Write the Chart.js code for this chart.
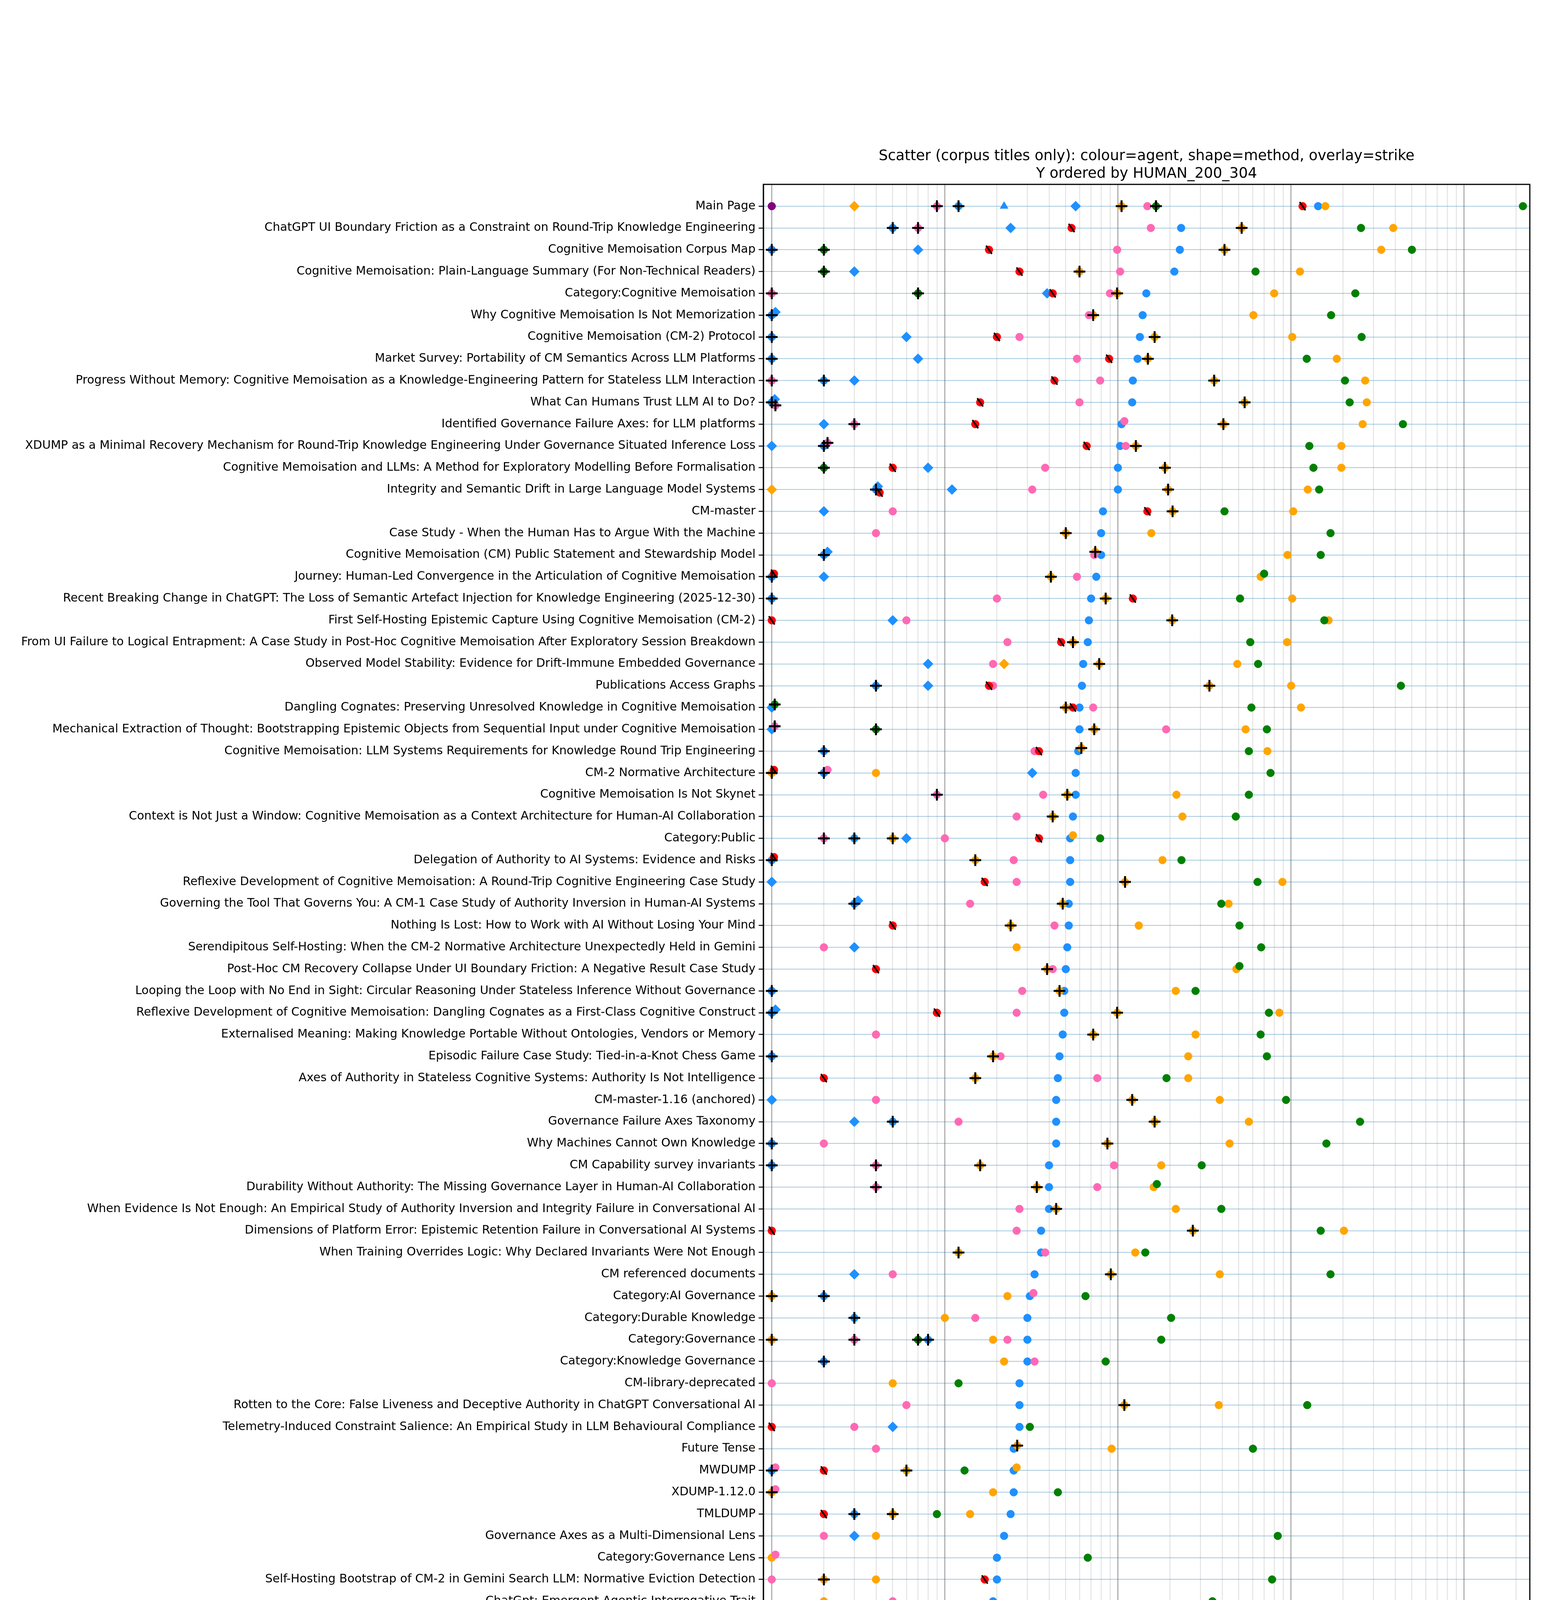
<!DOCTYPE html>
<html>
<head>
<meta charset="utf-8">
<title>Scatter (corpus titles only)</title>
<script src="https://cdn.jsdelivr.net/npm/chart.js@4.4.1/dist/chart.umd.min.js"></script>
<style>
  html, body { margin: 0; padding: 0; background: #fff; }
  #wrap { width: 3960px; height: 5913px; }
</style>
</head>
<body>
<div id="wrap"><canvas id="chart" width="3960" height="5913"></canvas></div>
<script>
// page titles, top to bottom (ordered by human 200/304 hits)
const titles = [
  'Main Page',
  'ChatGPT UI Boundary Friction as a Constraint on Round-Trip Knowledge Engineering',
  'Cognitive Memoisation Corpus Map',
  'Cognitive Memoisation: Plain-Language Summary (For Non-Technical Readers)',
  'Category:Cognitive Memoisation',
  'Why Cognitive Memoisation Is Not Memorization',
  'Cognitive Memoisation (CM-2) Protocol',
  'Market Survey: Portability of CM Semantics Across LLM Platforms',
  'Progress Without Memory: Cognitive Memoisation as a Knowledge-Engineering Pattern for Stateless LLM Interaction',
  'What Can Humans Trust LLM AI to Do?',
  'Identified Governance Failure Axes: for LLM platforms',
  'XDUMP as a Minimal Recovery Mechanism for Round-Trip Knowledge Engineering Under Governance Situated Inference Loss',
  'Cognitive Memoisation and LLMs: A Method for Exploratory Modelling Before Formalisation',
  'Integrity and Semantic Drift in Large Language Model Systems',
  'CM-master',
  'Case Study - When the Human Has to Argue With the Machine',
  'Cognitive Memoisation (CM) Public Statement and Stewardship Model',
  'Journey: Human-Led Convergence in the Articulation of Cognitive Memoisation',
  'Recent Breaking Change in ChatGPT: The Loss of Semantic Artefact Injection for Knowledge Engineering (2025-12-30)',
  'First Self-Hosting Epistemic Capture Using Cognitive Memoisation (CM-2)',
  'From UI Failure to Logical Entrapment: A Case Study in Post-Hoc Cognitive Memoisation After Exploratory Session Breakdown',
  'Observed Model Stability: Evidence for Drift-Immune Embedded Governance',
  'Publications Access Graphs',
  'Dangling Cognates: Preserving Unresolved Knowledge in Cognitive Memoisation',
  'Mechanical Extraction of Thought: Bootstrapping Epistemic Objects from Sequential Input under Cognitive Memoisation',
  'Cognitive Memoisation: LLM Systems Requirements for Knowledge Round Trip Engineering',
  'CM-2 Normative Architecture',
  'Cognitive Memoisation Is Not Skynet',
  'Context is Not Just a Window: Cognitive Memoisation as a Context Architecture for Human-AI Collaboration',
  'Category:Public',
  'Delegation of Authority to AI Systems: Evidence and Risks',
  'Reflexive Development of Cognitive Memoisation: A Round-Trip Cognitive Engineering Case Study',
  'Governing the Tool That Governs You: A CM-1 Case Study of Authority Inversion in Human-AI Systems',
  'Nothing Is Lost: How to Work with AI Without Losing Your Mind',
  'Serendipitous Self-Hosting: When the CM-2 Normative Architecture Unexpectedly Held in Gemini',
  'Post-Hoc CM Recovery Collapse Under UI Boundary Friction: A Negative Result Case Study',
  'Looping the Loop with No End in Sight: Circular Reasoning Under Stateless Inference Without Governance',
  'Reflexive Development of Cognitive Memoisation: Dangling Cognates as a First-Class Cognitive Construct',
  'Externalised Meaning: Making Knowledge Portable Without Ontologies, Vendors or Memory',
  'Episodic Failure Case Study: Tied-in-a-Knot Chess Game',
  'Axes of Authority in Stateless Cognitive Systems: Authority Is Not Intelligence',
  'CM-master-1.16 (anchored)',
  'Governance Failure Axes Taxonomy',
  'Why Machines Cannot Own Knowledge',
  'CM Capability survey invariants',
  'Durability Without Authority: The Missing Governance Layer in Human-AI Collaboration',
  'When Evidence Is Not Enough: An Empirical Study of Authority Inversion and Integrity Failure in Conversational AI',
  'Dimensions of Platform Error: Epistemic Retention Failure in Conversational AI Systems',
  'When Training Overrides Logic: Why Declared Invariants Were Not Enough',
  'CM referenced documents',
  'Category:AI Governance',
  'Category:Durable Knowledge',
  'Category:Governance',
  'Category:Knowledge Governance',
  'CM-library-deprecated',
  'Rotten to the Core: False Liveness and Deceptive Authority in ChatGPT Conversational AI',
  'Telemetry-Induced Constraint Salience: An Empirical Study in LLM Behavioural Compliance',
  'Future Tense',
  'MWDUMP',
  'XDUMP-1.12.0',
  'TMLDUMP',
  'Governance Axes as a Multi-Dimensional Lens',
  'Category:Governance Lens',
  'Self-Hosting Bootstrap of CM-2 in Gemini Search LLM: Normative Eviction Detection',
  'ChatGpt: Emergent Agentic Interrogative Trait',
  'Cognitive Memoisation: Governing Knowledge Round-Trip to Prevent Knowledge Erosion in LLM Systems',
  'ChatGPT and the Disappearing Clock: A Regression Affecting CM-2 Epistemic Object Protocol Compliance',
  'BF-9 Report: ChatGPT Project Context Artefact File Access Failure',
  'ChatGPT UI is unable to sustain serious work flows',
  'XDUMP-1.14',
  'CM-2 Reference Object Collection bootstrap data',
  'XDUMP-1.16',
  'Systemic Behavioural Traits in Conversational AI: A Trait-Level Classification Using Governance Axes',
  'MWDUMP-master-1.11',
  'Social Reliance and Platform-Induced Authority Inversion in Conversational AI',
  'TMLDUMP-1.0.0',
  'Transcript of a Session with Gemini Search - and I feel like Alice in Wonderland',
  'CM-2-normative-architecture-transclusion',
  'TMLDUMP-1.11',
  "Governance Substrate for AI Already Exists - and the World Hasn't Realised It Yet",
  'CM-2 Example Scenarios',
  'CM-2-protocol-transclusion',
  'Masquerading bots',
  'Venture Capital Brief',
  'CM Mandate',
  'CM-2-protocol-2026-03-06'
];

// human GET (200/304), one value per title row
const humanGet = [
  1435, 232, 228, 212, 146, 139, 134, 130, 122, 121,
  105, 103, 100, 100, 82, 80, 80, 75, 70, 68,
  67, 63, 62, 60, 60, 59, 57, 57, 55, 53,
  53, 53, 52, 52, 51, 50, 49, 49, 48, 46,
  45, 44, 44, 44, 40, 40, 40, 36, 36, 33,
  31, 30, 30, 30, 27, 27, 27, 25, 25, 25,
  24, 22, 20, 20, 19, 18, 17, 15, 15, 15,
  14, 14, 13, 12, 11, 10, 10, 7, 7, 6,
  2, 2, 2, 2, null, null
];

// the rest as [row, hits]
const humanGetOther = [[0,12],[1,5],[2,1],[5,1],[6,1],[7,1],[8,2],[9,1],[11,2],[13,4],[16,2],[17,1],[18,1],
  [22,4],[25,2],[26,2],[29,3],[30,1],[32,3],[36,1],[37,1],[39,1],[42,5],[43,1],[44,1],[50,2],[51,3],[52,8],
  [53,2],[58,1],[60,3],[66,1],[76,1]];
const humanHead = [[0,57],[1,24],[2,7],[3,3],[4,39],[5,1.05],[6,6],[7,7],[8,3],[9,1.04],[10,2],[11,1],[12,8],
  [13,4.1],[13,11],[14,2],[16,2.1],[17,2],[19,5],[21,8],[22,8],[23,1],[24,1],[26,32],[29,6],[31,1],[32,3.15],
  [34,3],[37,1.05],[41,1],[42,3],[49,3],[56,5],[61,3],[72,1]];
const humanPost = [[0,22]];

const metadataGet = [[0,1580],[1,3900],[2,3324],[3,1128],[4,800],[5,607],[6,1017],[7,1840],[8,2685],[9,2742],
  [10,2597],[11,1956],[12,1956],[13,1251],[14,1031],[15,156],[16,956],[17,668],[18,1017],[19,1650],[20,950],
  [21,490],[22,1003],[23,1143],[24,547],[25,731],[26,4],[27,218],[28,236],[29,55],[30,181],[31,893],[32,436],
  [33,132],[34,26],[35,484],[36,216],[37,857],[38,281],[39,255],[40,255],[41,388],[42,571],[43,442],[44,178],
  [45,161],[46,216],[47,2024],[48,126],[49,388],[50,23],[51,10],[52,19],[53,22],[54,5],[55,383],[57,92],
  [58,26],[59,19],[60,14],[61,4],[62,1],[63,4],[64,2],[65,1],[66,1.05],[67,2],[68,2],[69,11],[71,22],[72,51],
  [73,6],[74,5],[75,9],[76,3],[79,1],[82,1]];
const metadataGetOther = [[0,105],[1,519],[2,413],[3,60],[4,99],[5,72],[6,163],[7,149],[8,360],[9,540],
  [10,407],[11,127],[12,187],[13,195],[14,207],[15,50],[16,74],[17,41],[18,85],[19,206],[20,55],[21,78],
  [22,338],[23,50],[24,73],[25,61.5],[26,1],[27,51],[28,42],[29,5],[30,15],[31,110],[32,48],[33,24],[35,39],
  [36,46],[37,99],[38,72],[39,19],[40,15],[41,121],[42,163],[43,87],[44,16],[45,34],[46,44],[47,271],[48,12],
  [49,91],[50,1],[52,1],[55,109],[57,26.2],[58,6],[59,1],[60,5],[63,2],[71,1],[72,26],[74,1]];
const metadataHead = [[0,3],[13,1],[21,22]];

const aiGet = [[0,21900],[1,2540],[2,5000],[3,624],[4,2355],[5,1706],[6,2560],[7,1234],[8,2052],[9,2184],
  [10,4437],[11,1277],[12,1349],[13,1455],[14,413],[15,1693],[16,1486],[17,700],[18,508],[19,1559],[20,582],
  [21,646],[22,4319],[23,591],[24,726],[25,571],[26,762],[27,571],[28,480],[29,79],[30,233],[31,641],[32,396],
  [33,504],[34,673],[35,504],[36,281],[37,746],[38,668],[39,726],[40,191],[41,937],[42,2508],[43,1603],
  [44,305],[45,168],[46,396],[47,1486],[48,144],[49,1693],[50,65],[51,203],[52,178],[53,85],[54,12],
  [55,1242],[56,31],[57,603],[58,13],[59,45],[60,9],[61,839],[62,67],[63,778],[64,352],[65,508],[66,1010],
  [67,1045],[68,575],[69,11.5],[70,5],[71,8],[72,500],[73,24],[74,297],[75,14],[76,98],[77,5],[78,8],
  [79,187],[80,92],[81,6],[82,253],[83,336],[84,355],[85,4]];
const aiGetOther = [[0,166],[2,2],[3,2],[4,7],[12,2],[23,1.04],[24,4],[52,7]];

const botGet = [[0,148],[1,155],[2,99],[3,103],[4,90],[5,68],[6,27],[7,58],[8,79],[9,60],[10,109],[11,111],
  [12,38],[13,32],[14,5],[15,4],[16,73],[17,58],[18,20],[19,6],[20,23],[21,19],[22,19],[23,72],[24,190],
  [25,33],[26,2.1],[27,37],[28,26],[29,10],[30,25],[31,26],[32,14],[33,43],[34,2],[35,42],[36,28],[37,26],
  [38,4],[39,21],[40,76],[41,4],[42,12],[43,2],[44,95],[45,76],[46,27],[47,26],[48,38],[49,5],[50,32.5],
  [51,15],[52,23],[53,33],[54,1],[55,6],[56,3],[57,4],[58,1.05],[59,1.05],[61,2],[62,1.05],[63,1],[64,5],
  [65,13],[66,7],[67,16],[68,16],[70,2],[72,1.05],[73,1],[74,3],[75,1],[76,10.4],[77,1],[78,1],[79,1.05],
  [81,1],[82,1.05],[83,1],[84,1]];
const botGetOther = [[0,9],[1,7],[4,1],[8,1],[9,1.05],[10,3],[11,2.1],[24,1.04],[27,9],[29,2],[44,4],[45,4],
  [52,3],[67,1]];

const curlwgetGet = [[0,1]];

const badbotGet = [[0,1167],[1,54],[2,18],[3,27],[4,42],[6,20],[7,89],[8,43],[9,16],[10,15],[11,66],[12,5],
  [13,4.2],[14,148],[17,1.03],[18,122],[19,1],[20,47],[22,18],[23,55],[25,35],[26,1.03],[29,35],[30,1.03],
  [31,17],[33,5],[35,4],[37,9],[40,2],[47,1],[56,1],[58,2],[60,2],[63,17],[66,19],[67,22],[83,1.04]];

const xTicks = [];
for (let e = 0; e <= 4; e++) for (let m = 1; m <= 9; m++) if (m * 10 ** e < 24000) xTicks.push(m * 10 ** e);

const C = {
  human: '#1e90ff', metadata: '#ffa500', ai: '#008000',
  bot: '#ff69b4', curlwget: '#800080', badbot: '#ff0000'
};

const seriesDefs = [
  { pts: humanGet.map((v, i) => [i, v]).filter(p => p[1] != null), color: C.human, style: 'circle' },
  { pts: humanGetOther, color: C.human, style: 'circle', overlay: 'plus' },
  { pts: humanHead, color: C.human, style: 'rectRot' },
  { pts: humanPost, color: C.human, style: 'triangle' },
  { pts: metadataGet, color: C.metadata, style: 'circle' },
  { pts: metadataGetOther, color: C.metadata, style: 'circle', overlay: 'plus' },
  { pts: metadataHead, color: C.metadata, style: 'rectRot' },
  { pts: aiGet, color: C.ai, style: 'circle' },
  { pts: aiGetOther, color: C.ai, style: 'circle', overlay: 'plus' },
  { pts: botGet, color: C.bot, style: 'circle' },
  { pts: botGetOther, color: C.bot, style: 'circle', overlay: 'plus' },
  { pts: curlwgetGet, color: C.curlwget, style: 'circle' },
  { pts: badbotGet, color: C.badbot, style: 'circle', overlay: 'slash' }
];

// nudge near-coincident points of the same row up/down so they stay visible
const JIT = [0, -0.14, 0.14, -0.28];
const all = [];
seriesDefs.forEach(s => { s.items = s.pts.map(([row, x]) => ({ row, x, y: row })); all.push(...s.items); });
const byRow = {};
all.forEach(p => (byRow[p.row] = byRow[p.row] || []).push(p));
Object.values(byRow).forEach(list => {
  list.sort((a, b) => a.x - b.x);
  list.forEach((p, i) => {
    let k = 0;
    for (let j = 0; j < i; j++) if (Math.log10(p.x) - Math.log10(list[j].x) < 0.022) k++;
    p.y = p.row + JIT[Math.min(k, 3)];
  });
});

const radius = { circle: 10, rectRot: 13, triangle: 12 };
const markerSets = seriesDefs.map(s => ({
  data: s.items.map(p => ({ x: p.x, y: p.y })),
  pointStyle: s.style,
  pointRadius: radius[s.style],
  pointBackgroundColor: s.color,
  pointBorderColor: s.color,
  pointBorderWidth: 1
}));
const plusSet = {
  data: seriesDefs.filter(s => s.overlay === 'plus').flatMap(s => s.items.map(p => ({ x: p.x, y: p.y }))),
  pointStyle: 'cross', pointRadius: 15, pointBorderColor: '#000', pointBorderWidth: 5
};
const slashSet = {
  data: seriesDefs.filter(s => s.overlay === 'slash').flatMap(s => s.items.map(p => ({ x: p.x, y: p.y }))),
  pointStyle: 'line', pointRotation: 55, pointRadius: 13, pointBorderColor: '#000', pointBorderWidth: 4
};
// index 0 is drawn last (on top)
const datasets = [slashSet, plusSet, ...markerSets.slice().reverse()];

const isDecade = v => Math.abs(Math.log10(v) - Math.round(Math.log10(v))) < 1e-9;
const SUP = ['\u2070', '\u00b9', '\u00b2', '\u00b3', '\u2074'];

function shape(ctx, style, x, y, r, color) {
  ctx.save();
  ctx.fillStyle = color; ctx.strokeStyle = color;
  ctx.beginPath();
  if (style === 'circle') ctx.arc(x, y, r, 0, Math.PI * 2);
  if (style === 'up') { ctx.moveTo(x, y - r); ctx.lineTo(x + r * 0.87, y + r * 0.5); ctx.lineTo(x - r * 0.87, y + r * 0.5); }
  if (style === 'down') { ctx.moveTo(x, y + r); ctx.lineTo(x + r * 0.87, y - r * 0.5); ctx.lineTo(x - r * 0.87, y - r * 0.5); }
  if (style === 'diamond') { ctx.moveTo(x - r, y); ctx.lineTo(x, y - r); ctx.lineTo(x + r, y); ctx.lineTo(x, y + r); }
  ctx.closePath();
  if (style !== 'x' && style !== 'slash' && style !== 'plus') ctx.fill();
  ctx.lineWidth = 3;
  if (style === 'x') { ctx.moveTo(x - r, y - r); ctx.lineTo(x + r, y + r); ctx.moveTo(x + r, y - r); ctx.lineTo(x - r, y + r); ctx.stroke(); }
  if (style === 'plus') { ctx.moveTo(x - r, y); ctx.lineTo(x + r, y); ctx.moveTo(x, y - r); ctx.lineTo(x, y + r); ctx.stroke(); }
  if (style === 'slash') { ctx.moveTo(x - r * 0.7, y - r * 0.6); ctx.lineTo(x + r * 0.7, y + r * 0.6); ctx.stroke(); }
  ctx.restore();
}

const legendRows = [
  ['', 'Agent'],
  ['circle', 'human', C.human], ['circle', 'metadata', C.metadata], ['circle', 'ai', C.ai],
  ['circle', 'bot', C.bot], ['circle', 'curlwget', C.curlwget], ['circle', 'badbot', C.badbot],
  ['', 'Method'],
  ['circle', 'GET'], ['up', 'POST'], ['down', 'PUT'], ['diamond', 'HEAD'], ['dot', 'OTHER'],
  ['', 'overlay'],
  ['x', 'x = error'], ['slash', '/ = redir'], ['plus', '+ = other'], ['', 'none = ok']
];

const decorations = {
  id: 'decorations',
  afterDraw(chart) {
    const { ctx, chartArea: a } = chart;
    const xs = chart.scales.x;
    ctx.save();
    // x tick marks
    ctx.strokeStyle = '#000'; ctx.lineWidth = 2.5;
    xTicks.forEach(v => {
      const px = xs.getPixelForValue(v);
      ctx.beginPath(); ctx.moveTo(px, a.bottom); ctx.lineTo(px, a.bottom + (isDecade(v) ? 14 : 8)); ctx.stroke();
    });
    // frame
    ctx.lineWidth = 3;
    ctx.strokeRect(a.left, a.top, a.right - a.left, a.bottom - a.top);
    // title
    ctx.fillStyle = '#000';
    ctx.font = '37px "DejaVu Sans"';
    ctx.textAlign = 'center'; ctx.textBaseline = 'middle';
    const cx = (a.left + a.right) / 2;
    ctx.fillText('Scatter (corpus titles only): colour=agent, shape=method, overlay=strike', cx, a.top - 72);
    ctx.fillText('Y ordered by HUMAN_200_304', cx, a.top - 27);
    // legend
    const bx = 3628, by = 4456, bw = 272, bh = 854, step = 44.4;
    ctx.fillStyle = 'rgba(255,255,255,0.8)';
    ctx.strokeStyle = '#cccccc'; ctx.lineWidth = 2;
    ctx.beginPath(); ctx.roundRect(bx, by, bw, bh, 8); ctx.fill(); ctx.stroke();
    ctx.fillStyle = '#000';
    ctx.font = '30px "DejaVu Sans"';
    ctx.fillText('Legend', bx + bw / 2, by + 26);
    ctx.textAlign = 'left';
    legendRows.forEach(([st, label, col], i) => {
      const y = by + 71 + i * step;
      if (st === 'dot') shape(ctx, 'circle', bx + 44, y, 5, '#000');
      else if (st === 'diamond') shape(ctx, 'diamond', bx + 44, y, 14, '#000');
      else if (st === 'up' || st === 'down') shape(ctx, st, bx + 44, y, 13, '#000');
      else if (st === 'x' || st === 'plus') shape(ctx, st, bx + 44, y, 11, '#000');
      else if (st === 'slash') shape(ctx, st, bx + 44, y, 12, '#000');
      else if (st) shape(ctx, st, bx + 44, y, 10, col || '#000');
      ctx.fillStyle = '#000';
      ctx.fillText(label, bx + 102, y);
    });
    ctx.restore();
  }
};

Chart.defaults.font.family = '"DejaVu Sans"';
Chart.defaults.font.size = 30;
Chart.defaults.color = '#000';

new Chart(document.getElementById('chart'), {
  type: 'scatter',
  data: { datasets },
  options: {
    responsive: false,
    devicePixelRatio: 1,
    animation: false,
    events: [],
    layout: { padding: { left: 0, right: 44, top: 472, bottom: 0 } },
    plugins: { legend: { display: false }, tooltip: { enabled: false }, title: { display: false } },
    scales: {
      x: {
        type: 'logarithmic',
        min: 0.894,
        max: 24000,
        afterBuildTicks: axis => { axis.ticks = xTicks.map(v => ({ value: v })); },
        afterFit: axis => { axis.height = 586; },
        grid: {
          color: c => isDecade(c.tick.value) ? '#b0b0b0' : '#d4d4d4',
          lineWidth: c => isDecade(c.tick.value) ? 3 : 1.5,
          drawTicks: false
        },
        border: { color: '#000', width: 3 },
        ticks: {
          autoSkip: false, maxRotation: 0, padding: 20,
          callback: v => isDecade(v) ? '10' + SUP[Math.round(Math.log10(v))] : ''
        },
        title: { display: true, text: 'Hits (log scale)', padding: { top: 0, bottom: 486 } }
      },
      y: {
        type: 'linear',
        reverse: true,
        min: -1,
        max: 86,
        afterBuildTicks: axis => { axis.ticks = titles.map((_, i) => ({ value: i })); },
        afterFit: axis => { axis.width = 1954; },
        grid: { color: 'rgba(31,119,180,0.4)', lineWidth: 2, tickColor: '#000', tickLength: 12, tickWidth: 2.5 },
        border: { color: '#000', width: 3 },
        ticks: { autoSkip: false, padding: 8, callback: v => titles[v] ?? '' }
      }
    }
  },
  plugins: [decorations]
});
</script>
</body>
</html>
